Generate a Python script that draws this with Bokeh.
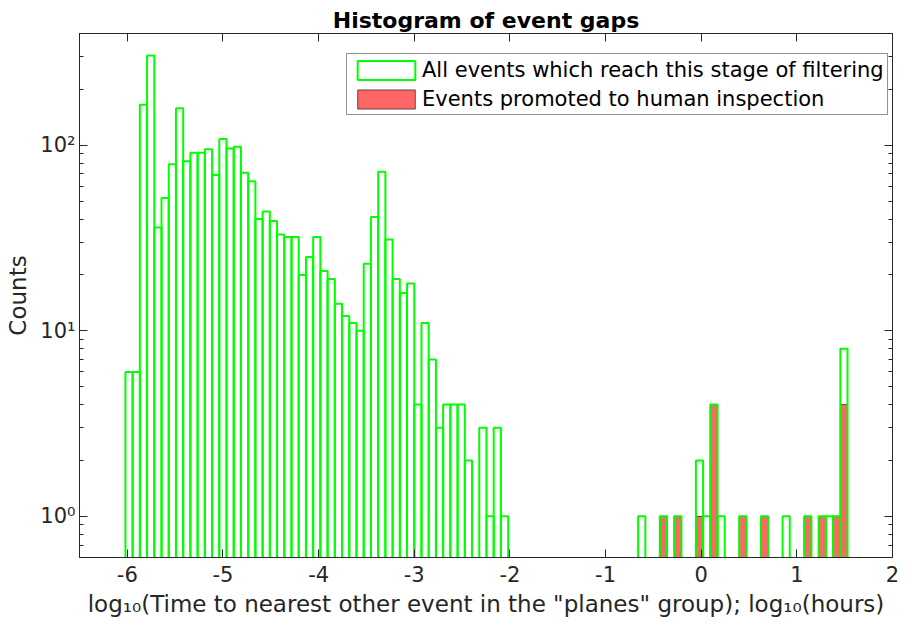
import numpy as np
from bokeh.plotting import figure
from bokeh.models import (Range1d, FixedTicker, LinearAxis, LogAxis, Legend, LegendItem,
                          CustomJSTickFormatter, ColumnDataSource)
from bokeh.embed import file_html
from bokeh.resources import INLINE

# ---------------- data ----------------
bin_first_edge = -6.02
bin_last_edge = 1.53
n_bins = 100

all_counts = [
    6, 6, 165, 304, 36, 52, 79, 158, 82, 91,
    91, 95, 69, 108, 96, 98, 71, 64, 40, 44,
    39, 33, 32, 32, 20, 25, 32, 21, 19, 14,
    12, 11, 10, 23, 41, 72, 31, 19, 16, 18,
    4, 11, 7, 3, 4, 4, 4, 2, 0, 3,
    1, 3, 1, 0, 0, 0, 0, 0, 0, 0,
    0, 0, 0, 0, 0, 0, 0, 0, 0, 0,
    0, 1, 0, 0, 1, 0, 1, 0, 0, 2,
    1, 4, 1, 0, 0, 1, 0, 0, 1, 0,
    0, 1, 0, 0, 1, 0, 1, 1, 1, 8,
]

promoted_counts = [
    0, 0, 0, 0, 0, 0, 0, 0, 0, 0,
    0, 0, 0, 0, 0, 0, 0, 0, 0, 0,
    0, 0, 0, 0, 0, 0, 0, 0, 0, 0,
    0, 0, 0, 0, 0, 0, 0, 0, 0, 0,
    0, 0, 0, 0, 0, 0, 0, 0, 0, 0,
    0, 0, 0, 0, 0, 0, 0, 0, 0, 0,
    0, 0, 0, 0, 0, 0, 0, 0, 0, 0,
    0, 0, 0, 0, 1, 0, 1, 0, 0, 1,
    0, 4, 0, 0, 0, 1, 0, 0, 1, 0,
    0, 0, 0, 0, 1, 0, 1, 0, 1, 4,
]

x_ticks = [-6, -5, -4, -3, -2, -1, 0, 1, 2]
y_ticks = [1, 10, 100]
y_minor = [0.6, 0.7, 0.8, 0.9] + [m * d for d in (1, 10, 100) for m in range(2, 10)]

title_text = "Histogram of event gaps"
x_label = 'log\u2081\u2080(Time to nearest other event in the "planes" group); log\u2081\u2080(hours)'
y_label = "Counts"
label_all = "All events which reach this stage of filtering"
label_promoted = "Events promoted to human inspection"

# ---------------- build ----------------
edges = np.linspace(bin_first_edge, bin_last_edge, n_bins + 1)
FLOOR = 0.01  # below visible range (log axis cannot take 0)


def make_source(counts):
    c = np.asarray(counts, dtype=float)
    m = c > 0
    return ColumnDataSource(dict(left=edges[:-1][m], right=edges[1:][m],
                                 top=c[m], bottom=np.full(int(m.sum()), FLOOR)))


src_all = make_source(all_counts)
src_prom = make_source(promoted_counts)

FONT = "DejaVu Sans"
DARK = "#262626"

p = figure(width=909, height=632,
           x_range=Range1d(-6.5, 2), y_range=Range1d(0.6, 400),
           y_axis_type="log", output_backend="svg", toolbar_location=None,
           title=title_text,
           min_border_left=79, min_border_right=17, min_border_top=33, min_border_bottom=75)

p.title.align = "center"
p.title.text_font = FONT
p.title.text_font_size = "22px"
p.title.text_font_style = "bold"
p.title.text_color = "black"
p.title.standoff = 2

p.xgrid.visible = False
p.ygrid.visible = False
p.outline_line_color = DARK
p.outline_line_width = 1
p.background_fill_color = "white"
p.border_fill_color = "white"

r_prom = p.quad(left="left", right="right", top="top", bottom="bottom", source=src_prom,
                fill_color="#FF0000", fill_alpha=0.6, line_color="black", line_width=0.6)
r_all = p.quad(left="left", right="right", top="top", bottom="bottom", source=src_all,
               fill_color=None, line_color="#00FF00", line_width=2)

sup_code = """
const sup = {'0':'\u2070','1':'\u00b9','2':'\u00b2','3':'\u00b3','4':'\u2074','-':'\u207b'};
const e = Math.round(Math.log10(tick));
return '10' + String(e).split('').map(c => sup[c]).join('');
"""
x_code = "return String(Math.round(tick));"

xa = p.xaxis[0]
xa.ticker = FixedTicker(ticks=x_ticks)
xa.formatter = CustomJSTickFormatter(code=x_code)
ya = p.yaxis[0]
ya.ticker = FixedTicker(ticks=y_ticks, minor_ticks=y_minor)
ya.formatter = CustomJSTickFormatter(code=sup_code)

for ax in (xa, ya):
    ax.axis_line_color = DARK
    ax.major_tick_line_color = DARK
    ax.minor_tick_line_color = DARK
    ax.major_tick_in = 8
    ax.major_tick_out = 0
    ax.minor_tick_in = 4
    ax.minor_tick_out = 0
    ax.major_label_text_font = FONT
    ax.major_label_text_font_size = "21px"
    ax.major_label_text_color = DARK
    ax.axis_label_text_font = FONT
    ax.axis_label_text_font_size = "23px"
    ax.axis_label_text_font_style = "normal"
    ax.axis_label_text_color = DARK
xa.minor_tick_line_color = None
xa.axis_label = x_label
ya.axis_label = y_label
xa.major_label_standoff = 8
ya.major_label_standoff = 4
xa.axis_label_standoff = 6
ya.axis_label_standoff = 6

top_ax = LinearAxis(ticker=FixedTicker(ticks=x_ticks))
right_ax = LogAxis(ticker=FixedTicker(ticks=y_ticks, minor_ticks=y_minor))
for ax in (top_ax, right_ax):
    ax.axis_line_color = DARK
    ax.major_tick_line_color = DARK
    ax.minor_tick_line_color = DARK
    ax.major_tick_in = 8
    ax.major_tick_out = 0
    ax.minor_tick_in = 4
    ax.minor_tick_out = 0
    ax.major_label_text_font_size = "2px"
    ax.major_label_text_alpha = 0
    ax.major_label_standoff = 0
top_ax.minor_tick_line_color = None
p.add_layout(top_ax, "above")
p.add_layout(right_ax, "right")

legend = Legend(items=[LegendItem(label=label_all, renderers=[r_all]),
                       LegendItem(label=label_promoted, renderers=[r_prom])],
                location=(267, 442), margin=0, padding=3, spacing=4,
                glyph_width=72, glyph_height=24, label_standoff=0, label_height=25,
                label_text_font=FONT, label_text_font_size="21px", label_text_color="black",
                border_line_color=DARK, border_line_width=1,
                background_fill_color="white", background_fill_alpha=1.0)
p.add_layout(legend)

open("out.html", "w").write(file_html(p, INLINE))
